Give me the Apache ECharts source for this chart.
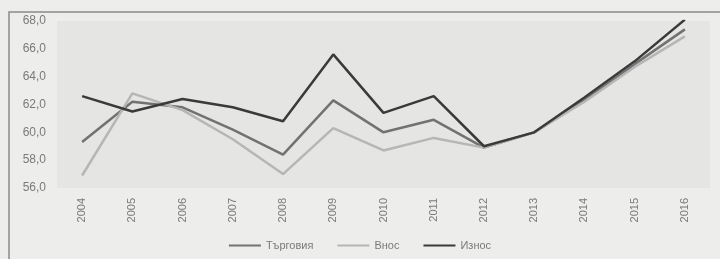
<!DOCTYPE html>
<html><head><meta charset="utf-8">
<script src="https://cdn.jsdelivr.net/npm/echarts@6/dist/echarts.min.js"></script>
<style>html,body{margin:0;padding:0;background:#ededeb;}#c{width:720px;height:259px;}</style>
</head><body><div id="c"></div>
<script>
const years = ['2004','2005','2006','2007','2008','2009','2010','2011','2012','2013','2014','2015','2016'];
const trade = [59.3,62.2,61.8,60.2,58.4,62.3,60.0,60.9,58.9,60.0,62.3,64.9,67.4];
const imports = [56.9,62.8,61.6,59.5,57.0,60.3,58.7,59.6,58.9,60.0,62.2,64.7,66.9];
const exports = [62.6,61.5,62.4,61.8,60.8,65.6,61.4,62.6,59.0,60.0,62.5,65.1,68.1];
const names = ['Търговия','Внос','Износ'];
const colors = ['#727272','#b6b6b6','#3a3a3a'];

const chart = echarts.init(document.getElementById('c'));
const mk = (name, data, color) => ({
  name, type:'line', data, symbol:'none', smooth:false,
  lineStyle:{color, width:2.5}, itemStyle:{color}
});
chart.setOption({
  animation:false,
  backgroundColor:'#ededeb',
  graphic:[{type:'rect', shape:{x:9,y:12,width:720,height:260}, style:{fill:'none', stroke:'#8a8a8a', lineWidth:1.5}, z:-1}],
  grid:{left:57, right:10, top:21, bottom:71, show:true, backgroundColor:'#e5e5e3', borderWidth:0},
  legend:{bottom:3, left:'center', itemWidth:32, itemHeight:2, icon:'rect', itemGap:24,
    textStyle:{color:'#7a7a7a', fontSize:11, fontFamily:'Liberation Sans'}, data:names},
  xAxis:{type:'category', data:years, boundaryGap:true,
    axisLine:{show:false}, axisTick:{show:false},
    axisLabel:{rotate:90, color:'#7a7a7a', fontSize:11, fontFamily:'Liberation Sans', margin:10}},
  yAxis:{type:'value', min:56, max:68, interval:2,
    axisLine:{show:false}, axisTick:{show:false}, splitLine:{show:false},
    axisLabel:{color:'#7a7a7a', fontSize:12, fontFamily:'Liberation Sans', margin:11,
      formatter:v=>v.toFixed(1).replace('.',',')}},
  series:[mk(names[0],trade,colors[0]), mk(names[1],imports,colors[1]), mk(names[2],exports,colors[2])]
});
</script></body></html>
